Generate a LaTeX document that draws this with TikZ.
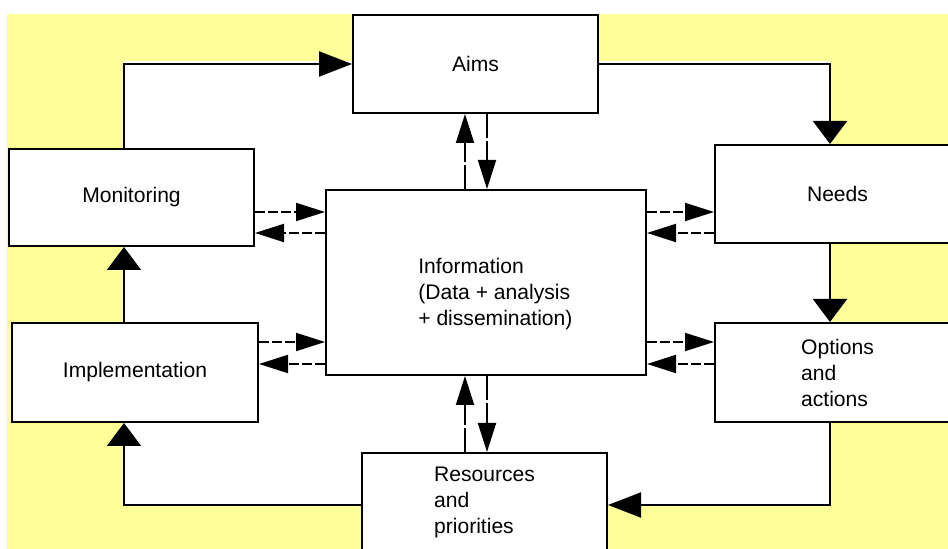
\documentclass[tikz,border=0pt]{standalone}
\usepackage{fontspec}
\setmainfont{Liberation Sans}
\usetikzlibrary{arrows.meta}
\definecolor{paleyellow}{RGB}{255,255,153}
\tikzset{
  box/.style={draw, line width=0.04cm, fill=white, align=left, inner sep=0pt,
    font=\fontsize{12}{14.8}\selectfont},
  lbl/.style={align=left, inner sep=0pt, font=\fontsize{12}{14.8}\selectfont},
  flowh/.style={line width=0.04cm, -{Triangle[length=0.66cm,width=0.5cm]}},
  flowv/.style={line width=0.04cm, -{Triangle[length=0.46cm,width=0.68cm]}},
  dflowh/.style={line width=0.04cm, dash pattern=on 0.2cm off 0.06cm,
    -{Triangle[length=0.58cm,width=0.36cm]}},
  dflowv/.style={line width=0.04cm, dash pattern=on 0.48cm off 0.06cm,
    -{Triangle[length=0.58cm,width=0.36cm]}},
}
\begin{document}
\begin{tikzpicture}
            \clip (0.000000,0.000000) rectangle (18.960000,10.980000);
            
            % Background, white inside the loop
            \fill [paleyellow] (0.140000,0.000000) rectangle (18.960000,10.700000);%
            \coordinate (lx) at (2.480000,0.880000);%
            \coordinate (rx) at (16.600000,9.760000);%
            \fill [white] (lx) rectangle (rx);%
            
            % Boxes
            \node [box, minimum width=4.90cm, minimum height=1.96cm] (aims) at (9.510000,9.700000) {Aims};%
            \node [box, minimum width=4.90cm, minimum height=1.94cm] (monitoring) at (2.630000,7.030000) {Monitoring};%
            \node [box, minimum width=4.90cm, minimum height=1.96cm] (needs) at (16.750000,7.100000) {Needs};%
            \node [box, minimum width=6.40cm, minimum height=3.70cm] (info) at (9.720000,5.330000) {};%
            \node [box, minimum width=4.92cm, minimum height=1.98cm] (implementation) at (2.700000,3.530000) {Implementation};%
            \node [box, minimum width=4.90cm, minimum height=1.98cm] (options) at (16.750000,3.530000) {Options\\and\\actions};%
            \node [box, minimum width=4.90cm, minimum height=1.96cm] (resources) at (9.690000,0.940000) {Resources\\and\\priorities};%
            
            % Marking text of information box
            \node [lbl, anchor=west] (infotext) at (8.360000,5.090000) {Information\\(Data + analysis\\+ dissemination)};%
            
            % Drawing the outer loop
            \draw [flowh] (monitoring.north -| lx) |- (aims.west);%
            \draw [flowv] (aims.east) -| (needs.north -| rx);%
            \draw [flowv] (needs.south -| rx) -- (options.north -| rx);%
            \draw [flowh] (options.south -| rx) |- (resources.east |- lx);%
            \draw [flowv] (resources.west |- lx) -| (implementation.south -| lx);%
            \draw [flowv] (implementation.north -| lx) -- (monitoring.south -| lx);%
            
            % Drawing dashed links, left side
            \draw [dflowh] (monitoring.east |- 0,6.740000) -- (info.west |- 0,6.740000);%
            \draw [dflowh] (info.west |- 0,6.320000) -- (monitoring.east |- 0,6.320000);%
            \draw [dflowh] (implementation.east |- 0,4.140000) -- (info.west |- 0,4.140000);%
            \draw [dflowh] (info.west |- 0,3.700000) -- (implementation.east |- 0,3.700000);%
            
            % Drawing dashed links, right side
            \draw [dflowh] (info.east |- 0,6.740000) -- (needs.west |- 0,6.740000);%
            \draw [dflowh] (needs.west |- 0,6.320000) -- (info.east |- 0,6.320000);%
            \draw [dflowh] (info.east |- 0,4.140000) -- (options.west |- 0,4.140000);%
            \draw [dflowh] (options.west |- 0,3.700000) -- (info.east |- 0,3.700000);%
            
            % Drawing dashed links, top and bottom
            \draw [dflowv] (info.north -| 9.300000,0) -- (aims.south -| 9.300000,0);%
            \draw [dflowv] (aims.south -| 9.740000,0) -- (info.north -| 9.740000,0);%
            \draw [dflowv] (resources.north -| 9.300000,0) -- (info.south -| 9.300000,0);%
            \draw [dflowv] (info.south -| 9.740000,0) -- (resources.north -| 9.740000,0);%
\end{tikzpicture}
\end{document}
